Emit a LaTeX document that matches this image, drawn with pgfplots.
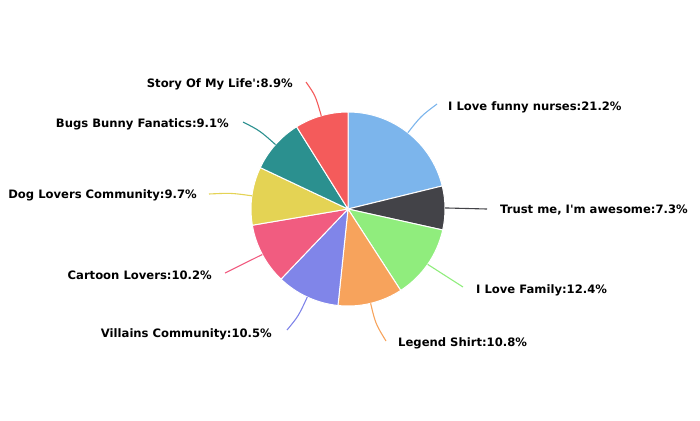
\documentclass[border=0pt]{standalone}
\usepackage{pgfplots}
\pgfplotsset{compat=1.18}
\usepackage{pgfplotstable}
\usepackage{fontspec}
\setmainfont{DejaVu Sans}[Ligatures=TeXOff]

\definecolor{c0}{HTML}{7CB5EC}
\definecolor{c1}{HTML}{434348}
\definecolor{c2}{HTML}{90ED7D}
\definecolor{c3}{HTML}{F7A35C}
\definecolor{c4}{HTML}{8085E9}
\definecolor{c5}{HTML}{F15C80}
\definecolor{c6}{HTML}{E4D354}
\definecolor{c7}{HTML}{2B908F}
\definecolor{c8}{HTML}{F45B5B}

% name; value; label x; label y; connector end x; connector end y; label anchor
\pgfplotstableread[col sep=semicolon]{
name;value;lx;ly;ex;ey;anc
I Love funny nurses;21.2;448;107;437;104;west
Trust me, I'm awesome;7.3;500;210;487;209;west
I Love Family;12.4;476;290;463;287;west
Legend Shirt;10.8;398;343;386;341;west
Villains Community;10.5;272;334;287;330;east
Cartoon Lovers;10.2;212;275;225;273;east
Dog Lovers Community;9.7;197;195;209;194;east
Bugs Bunny Fanatics;9.1;229;124;243;122;east
Story Of My Life';8.9;293;84;306;82;east
}\piedata

\gdef\total{0}
\foreach \i in {0,...,8}{%
  \pgfplotstablegetelem{\i}{value}\of\piedata
  \pgfmathsetmacro\t{\total+\pgfplotsretval}%
  \xdef\total{\t}%
}
\gdef\cum{0}
\foreach \i in {0,...,8}{%
  \pgfplotstablegetelem{\i}{value}\of\piedata
  \let\v\pgfplotsretval
  \expandafter\xdef\csname v\i\endcsname{\v}%
  \pgfmathsetmacro\s{90-(\cum/\total)*360}%
  \pgfmathsetmacro\e{90-((\cum+\v)/\total)*360}%
  \pgfmathsetmacro\m{(\s+\e)/2}%
  \expandafter\xdef\csname s\i\endcsname{\s}%
  \expandafter\xdef\csname e\i\endcsname{\e}%
  \expandafter\xdef\csname m\i\endcsname{\m}%
  \pgfmathsetmacro\c{\cum+\v}%
  \xdef\cum{\c}%
  \pgfplotstablegetelem{\i}{name}\of\piedata
  \expandafter\global\expandafter\let\csname n\i\endcsname\pgfplotsretval
  \pgfplotstablegetelem{\i}{lx}\of\piedata
  \expandafter\xdef\csname lx\i\endcsname{\pgfplotsretval}%
  \pgfplotstablegetelem{\i}{ly}\of\piedata
  \expandafter\xdef\csname ly\i\endcsname{\pgfplotsretval}%
  \pgfplotstablegetelem{\i}{ex}\of\piedata
  \expandafter\xdef\csname ex\i\endcsname{\pgfplotsretval}%
  \pgfplotstablegetelem{\i}{ey}\of\piedata
  \expandafter\xdef\csname ey\i\endcsname{\pgfplotsretval}%
  \pgfplotstablegetelem{\i}{anc}\of\piedata
  \expandafter\xdef\csname an\i\endcsname{\pgfplotsretval}%
}

\begin{document}
\begin{tikzpicture}
\begin{axis}[
  width=700bp, height=420bp, scale only axis,
  xmin=0, xmax=700, ymin=0, ymax=420, y dir=reverse,
  hide axis, clip=false,
]
\pgfplotsinvokeforeach{0,...,8}{%
  \edef\tmp{\noexpand\fill[c#1, draw=white, line width=1bp, line join=round]
    (axis cs:348,209) -- ([shift={(\csname s#1\endcsname:97bp)}]axis cs:348,209)
    arc[start angle=\csname s#1\endcsname, end angle=\csname e#1\endcsname, radius=97bp] -- cycle;}%
  \tmp
}
\pgfplotsinvokeforeach{0,...,8}{%
  \edef\tmp{\noexpand\draw[c#1, line width=1.1bp]
    ([shift={(\csname m#1\endcsname:97bp)}]axis cs:348,209) .. controls
    ([shift={(\csname m#1\endcsname:118bp)}]axis cs:348,209) ..
    (axis cs:\csname ex#1\endcsname,\csname ey#1\endcsname);}%
  \tmp
  \edef\tmp{\noexpand\node[anchor=\csname an#1\endcsname, inner sep=0pt,
    font=\noexpand\fontsize{11.6bp}{13bp}\noexpand\selectfont\noexpand\bfseries, text=black]
    at (axis cs:\csname lx#1\endcsname,\csname ly#1\endcsname)
    {\noexpand\csname n#1\noexpand\endcsname:\csname v#1\endcsname\noexpand\%};}%
  \tmp
}
\end{axis}
\pgfresetboundingbox
\path[use as bounding box] (current axis.south west) rectangle (current axis.north east);
\end{tikzpicture}
\end{document}
